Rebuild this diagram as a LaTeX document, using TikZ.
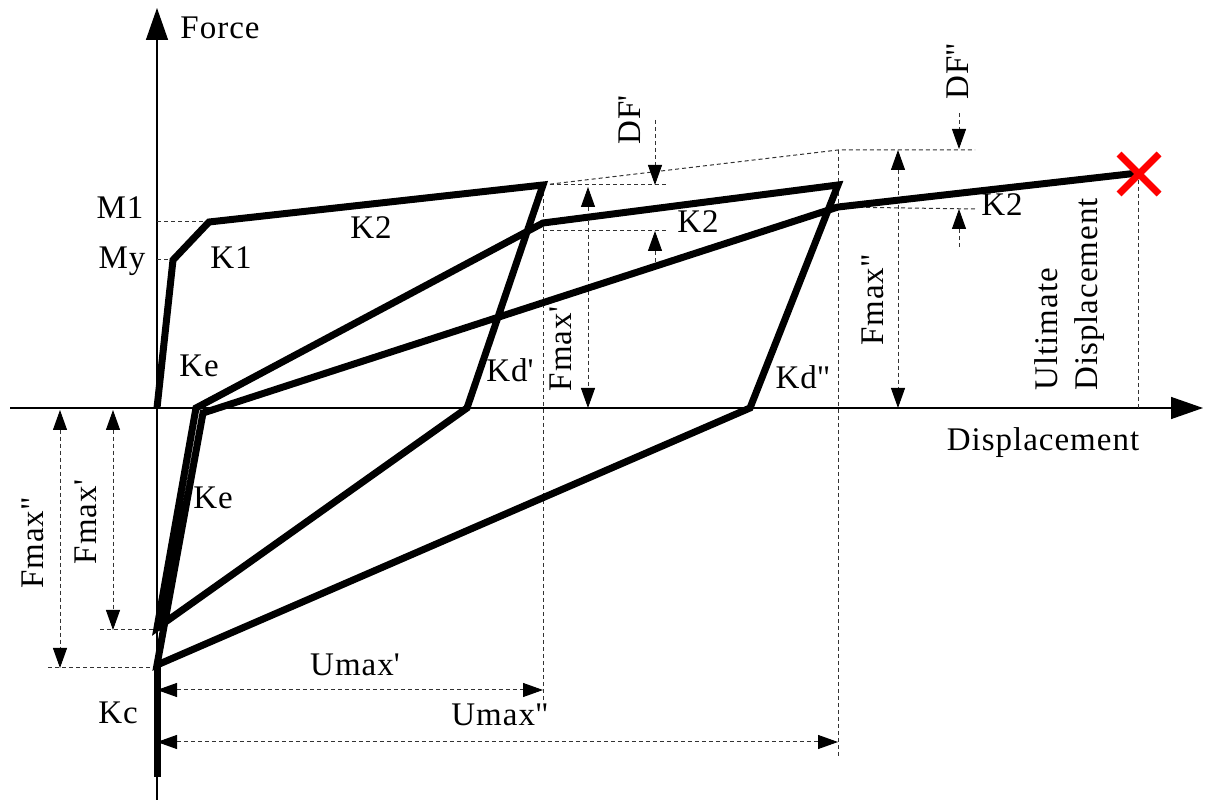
\documentclass[tikz,border=0pt]{standalone}
\usepackage{fontspec}
\setmainfont{Liberation Serif}[LetterSpace=3]
\usetikzlibrary{arrows.meta}
\newcommand{\prm}{\textquotesingle}
\newcommand{\dprm}{\textquotedbl}
\begin{document}
\begin{tikzpicture}[x=0.5pt,y=-0.5pt,
    curve/.style={line width=3.5pt},
    axis/.style={line width=0.7pt,-{Triangle[length=16pt,width=11pt]}},
    guide/.style={line width=0.5pt,dash pattern=on 2pt off 1.5pt,black!80},
    tip/.style={-{Triangle[length=10pt,width=7pt,black]}},
    dimline/.style={guide,{Triangle[length=10pt,width=7pt,black]}-{Triangle[length=10pt,width=7pt,black]}},
    lbl/.style={font=\fontsize{16.5}{20}\selectfont,inner sep=0pt}]
    \useasboundingbox (0,0) rectangle (1211,801);
    % points of the force-displacement curve (1 unit = 1 px, y downwards)
    \coordinate (O)  at (157,408);
    \coordinate (Y)  at (173,260);
    \coordinate (M)  at (209,222);
    \coordinate (P1) at (543,185);
    \coordinate (Z1) at (467,408);
    \coordinate (N1) at (157,628);
    \coordinate (R1) at (196,408);
    \coordinate (Q1) at (543,223);
    \coordinate (P2) at (838,185);
    \coordinate (Z2) at (750,408);
    \coordinate (N2) at (157,665);
    \coordinate (R2) at (203,413);
    \coordinate (Q2) at (838,207);
    \coordinate (U)  at (1138,173);
    \coordinate (C)  at (157,777);
    \coordinate (T2) at (838,150);
    % axes
    \coordinate (xs) at (10,408);
    \coordinate (xe) at (1203,408);
    \coordinate (ys) at (157,800);
    \coordinate (ye) at (157,8);
    \draw[axis] (xs) -- (xe);
    \draw[axis] (ys) -- (ye);
    \node[lbl] (force) at (220,28) {Force};
    \node[lbl] (disp) at (1043,443) {Displacement};
    % guide lines
    \draw[guide] (M -| O) -- (M);
    \draw[guide] (Y -| O) -- (Y);
    \draw[guide] (P1) -- (T2) -- (975,150);
    \draw[guide] (P1) -- (668,185);
    \draw[guide] (543,231) -- (668,231);
    \draw[guide] (Q2) -- (975,209);
    \draw[guide] (P1) -- (543,702);
    \draw[guide] (T2) -- (838,756);
    \draw[guide] (U) -- (U |- O);
    \draw[guide] (100,630) -- (157,630);
    \draw[guide] (48,668) -- (157,668);
    % dimension arrows
    \draw[dimline] (588,187) -- (588,408);
    \draw[dimline] (898,150) -- (898,408);
    \draw[dimline] (113,410) -- (113,630);
    \draw[dimline] (60,410) -- (60,668);
    \draw[dimline] (157,690) -- (543,690);
    \draw[dimline] (157,742) -- (838,742);
    \draw[guide,tip] (655,120) -- (655,185);
    \draw[guide,tip] (655,262) -- (655,231);
    \draw[guide,tip] (959,113) -- (959,149);
    \draw[guide,tip] (959,247) -- (959,209);
    % curve
    \draw[curve] (O) -- (Y) -- (M) -- (P1) -- (Z1) -- (N1) -- (R1) -- (Q1) -- (P2)
        -- (Z2) -- (N2) -- (R2) -- (Q2) -- (U);
    \draw[curve] (N2) -- (C);
    \draw[red,line width=3.5pt] (1119,154) -- (1159,194) (1119,194) -- (1159,154);
    % labels
    \node[lbl] (mone) at (120,208) {M1};
    \node[lbl] (my) at (122,261) {My};
    \node[lbl] (kone) at (231,258) {K1};
    \node[lbl] (ktwoa) at (371,228) {K2};
    \node[lbl] (ktwob) at (698,222) {K2};
    \node[lbl] (ktwoc) at (1002,205) {K2};
    \node[lbl] (kea) at (199,366) {Ke};
    \node[lbl] (keb) at (213,498) {Ke};
    \node[lbl] (kda) at (510,370) {Kd\prm};
    \node[lbl] (kdb) at (803,377) {Kd\dprm};
    \node[lbl] (kc) at (118,713) {Kc};
    \node[lbl] (umaxa) at (355,665) {Umax\prm};
    \node[lbl] (umaxb) at (500,715) {Umax\dprm};
    \node[lbl,rotate=90] (fmaxa) at (561,349) {Fmax\prm};
    \node[lbl,rotate=90] (fmaxb) at (873,300) {Fmax\dprm};
    \node[lbl,rotate=90] (fmaxc) at (86,522) {Fmax\prm};
    \node[lbl,rotate=90] (fmaxd) at (33,543) {Fmax\dprm};
    \node[lbl,rotate=90] (dfa) at (630,120) {DF\prm};
    \node[lbl,rotate=90] (dfb) at (958,71) {DF\dprm};
    \node[lbl,rotate=90,align=left,anchor=west] (ult) at (1070,391) {Ultimate\\Displacement};
\end{tikzpicture}
\end{document}
